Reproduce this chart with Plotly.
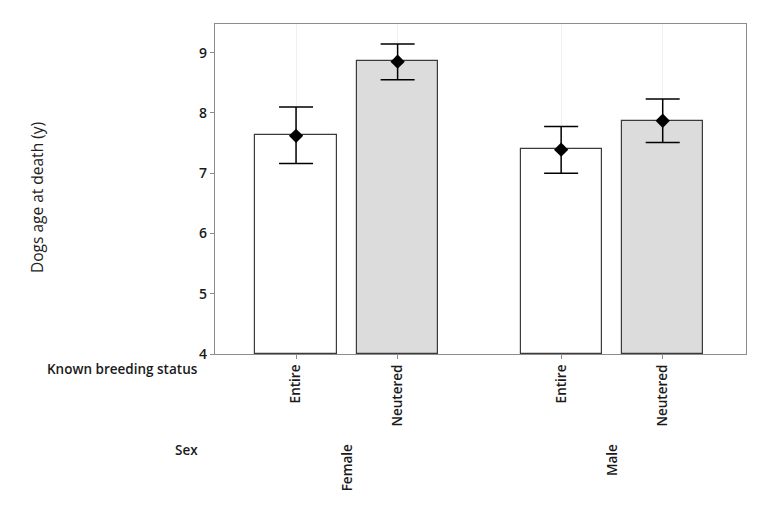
import plotly.graph_objects as go

sexes = ["Female", "Female", "Male", "Male"]
status = ["Entire", "Neutered", "Entire", "Neutered"]
bar_means = [7.63, 8.86, 7.40, 7.87]
point_means = [7.62, 8.85, 7.39, 7.87]
ci_upper = [8.10, 9.145, 7.775, 8.23]
ci_lower = [7.16, 8.55, 7.00, 7.51]
fills = ["#ffffff", "#dcdcdc", "#ffffff", "#dcdcdc"]

group_offset = {"Female": 0.0, "Male": 2.61}
status_offset = {"Entire": 0.0, "Neutered": 1.0}
xs = [group_offset[s] + status_offset[b] for s, b in zip(sexes, status)]
base = 4

# page body has an 8px margin; shift figure accordingly
PAD = 8
W, H = 781, 520
L, R, T, B = 215, 35, 24, 166

fig = go.Figure()
fig.add_trace(go.Bar(
    x=xs, y=[v - base for v in bar_means], base=base, width=0.80,
    marker=dict(color=fills, line=dict(color="#3a3a3a", width=1.2)),
    showlegend=False, hoverinfo="skip"))
fig.add_trace(go.Scatter(
    x=xs, y=point_means, mode="markers",
    marker=dict(symbol="diamond", size=11, color="black"),
    error_y=dict(type="data", symmetric=False,
                 array=[u - m for u, m in zip(ci_upper, point_means)],
                 arrayminus=[m - l for m, l in zip(point_means, ci_lower)],
                 color="black", thickness=1.5, width=17),
    showlegend=False))

fnt = "Open Sans, Noto Sans, sans-serif"
tick_font = dict(size=13.5, color="#1a1a1a", weight=600)
fig.update_layout(
    width=W - PAD, height=H - PAD,
    margin=dict(l=L - PAD, r=R, t=T - PAD, b=B),
    paper_bgcolor="white", plot_bgcolor="white",
    font=dict(family=fnt, color="#1a1a1a"),
    bargap=0,
    xaxis=dict(range=[-0.798, 4.43], tickvals=xs, ticktext=status,
               tickangle=-90, tickfont=tick_font,
               showgrid=True, gridcolor="#f0f0f0", gridwidth=1,
               zeroline=False, showline=True, linecolor="#8c8c8c", linewidth=1.3, mirror=True,
               ticks="outside", ticklen=4, tickcolor="#8c8c8c"),
    yaxis=dict(range=[4, 9.475], tickvals=[4, 5, 6, 7, 8, 9],
               tickfont=dict(size=14, color="#1a1a1a", weight=600),
               showgrid=False, zeroline=False, showline=True, linecolor="#8c8c8c", linewidth=1.3,
               mirror=True, ticks="outside", ticklen=4, tickcolor="#8c8c8c"),
)

pw = W - L - R
ph = H - T - B
def px_to_paper_x(px):
    return (px - L) / pw

def px_to_paper_y(py):
    return (H - B - py) / ph

fig.add_annotation(text="Dogs age at death (y)", xref="paper", yref="paper",
                   x=px_to_paper_x(37), y=px_to_paper_y(198), textangle=-90, showarrow=False,
                   font=dict(size=15.5, color="#222222"), xanchor="center", yanchor="middle")
fig.add_annotation(text="Known breeding status", xref="paper", yref="paper",
                   x=px_to_paper_x(200), y=px_to_paper_y(369), showarrow=False,
                   font=tick_font, xanchor="right", yanchor="middle")
fig.add_annotation(text="Sex", xref="paper", yref="paper",
                   x=px_to_paper_x(200), y=px_to_paper_y(450), showarrow=False,
                   font=tick_font, xanchor="right", yanchor="middle")
for sex in ["Female", "Male"]:
    gx = [x for x, s in zip(xs, sexes) if s == sex]
    fig.add_annotation(text=sex, x=sum(gx) / len(gx), xref="x", yref="paper",
                       y=px_to_paper_y(442), textangle=-90, showarrow=False,
                       font=tick_font, xanchor="center", yanchor="top")

fig.write_html("out.html")
